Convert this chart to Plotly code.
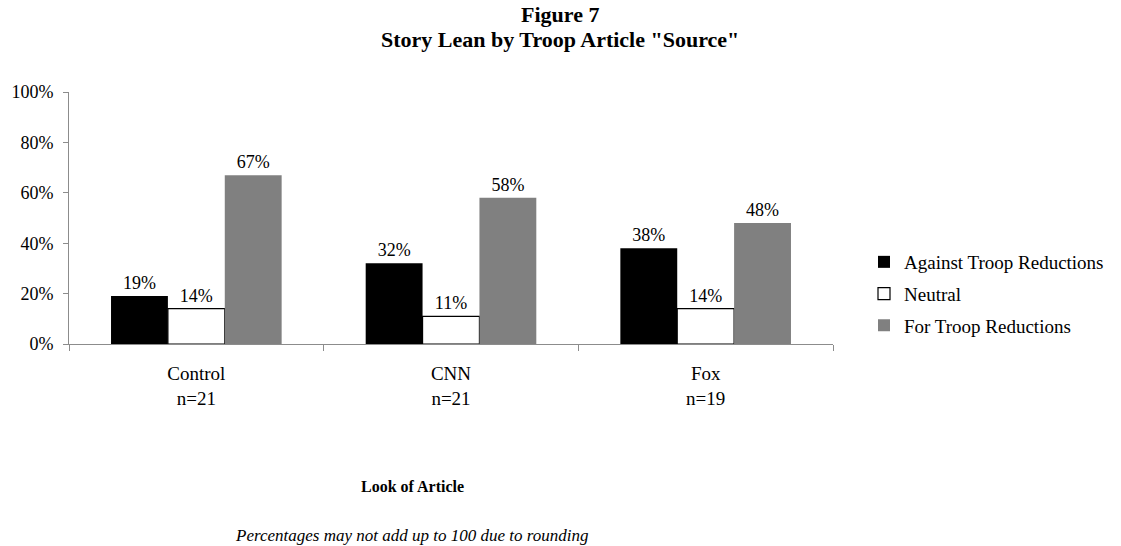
import plotly.graph_objects as go

categories = ["Control<br>n=21", "CNN<br>n=21", "Fox<br>n=19"]
against = [0.19, 0.32, 0.38]
neutral = [0.14, 0.11, 0.14]
for_red = [0.67, 0.58, 0.48]
series_names = ["Against Troop Reductions", "Neutral", "For Troop Reductions"]
y_ticks = [0, 0.2, 0.4, 0.6, 0.8, 1.0]
y_tick_labels = ["0%", "20%", "40%", "60%", "80%", "100%"]

FONT = "Liberation Serif, Times New Roman, serif"

W, H = 1121, 546
ML, MR, MT, MB = 69, 288, 92, 202
PW, PH = W - ML - MR, H - MT - MB


def px_x(x):
    return (x - ML) / PW


def px_y(y):
    return (H - MB - y) / PH


def labels(vals):
    return [f"{round(v*100)}%" for v in vals]


fig = go.Figure()
styles = [
    dict(color="#000000", line=dict(color="#000000", width=0)),
    dict(color="#ffffff", line=dict(color="#000000", width=1.2)),
    dict(color="#808080", line=dict(color="#808080", width=0)),
]
for i, (name, vals, st) in enumerate(zip(series_names, [against, neutral, for_red], styles)):
    fig.add_trace(go.Bar(
        x=categories, y=vals, name=name, marker=st, legendgroup=f"g{i}",
        text=labels(vals), textposition="outside",
        textfont=dict(family=FONT, size=18, color="#000000"),
        cliponaxis=False,
    ))

fig.update_layout(
    width=W, height=H,
    margin=dict(l=ML, r=MR, t=MT, b=MB, autoexpand=False),
    paper_bgcolor="white", plot_bgcolor="white",
    barmode="group", bargap=0.33, bargroupgap=0,
    font=dict(family=FONT, size=18, color="#000000"),
    showlegend=True,
    legend=dict(
        x=px_x(864), xanchor="left", y=px_y(294), yanchor="middle",
        font=dict(family=FONT, size=19, color="#000000"),
        bgcolor="rgba(0,0,0,0)", itemwidth=30, traceorder="grouped", tracegroupgap=4,
    ),
    xaxis=dict(
        showline=True, linecolor="#8c8c8c", linewidth=1,
        ticks="outside", tickson="boundaries", ticklen=6, tickcolor="#8c8c8c",
        tickfont=dict(family=FONT, size=19), ticklabelstandoff=12,
        showgrid=False, zeroline=False,
    ),
    yaxis=dict(
        range=[0, 1.0], tickvals=y_ticks, ticktext=y_tick_labels,
        showline=True, linecolor="#8c8c8c", linewidth=1,
        ticks="outside", ticklen=5, tickcolor="#8c8c8c",
        tickfont=dict(family=FONT, size=18), ticklabelstandoff=6,
        showgrid=False, zeroline=False,
    ),
    annotations=[
        dict(text="<b>Figure 7</b>", x=px_x(560), y=px_y(14),
             font=dict(family=FONT, size=22)),
        dict(text="<b>Story Lean by Troop Article \"Source\"</b>", x=px_x(560), y=px_y(39),
             font=dict(family=FONT, size=22)),
        dict(text="<b>Look of Article</b>", x=px_x(412), y=px_y(486),
             font=dict(family=FONT, size=16)),
        dict(text="<i>Percentages may not add up to 100 due to rounding</i>", x=px_x(411),
             y=px_y(535), font=dict(family=FONT, size=17)),
    ],
)
for a in fig.layout.annotations:
    a.xref = "paper"
    a.yref = "paper"
    a.showarrow = False
    a.xanchor = "center"
    a.yanchor = "middle"

fig.write_html("out.html")
